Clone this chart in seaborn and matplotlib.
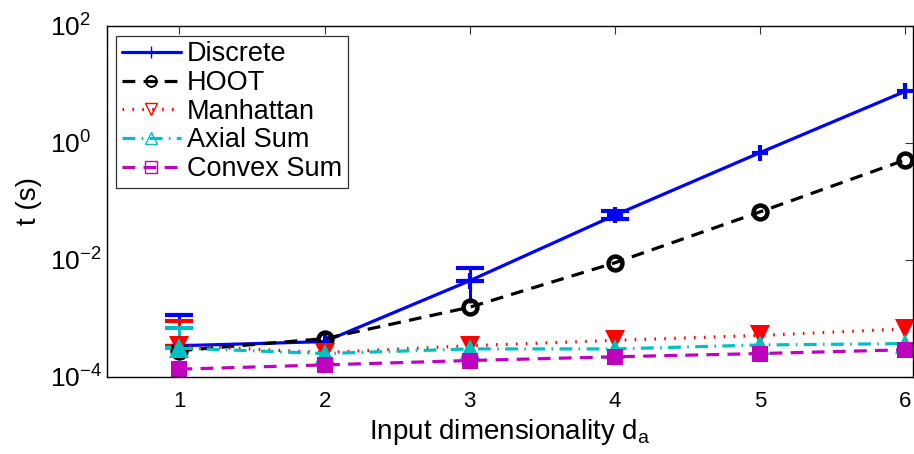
import numpy as np
import pandas as pd
import seaborn as sns
import matplotlib
matplotlib.use("Agg")
import matplotlib.pyplot as plt
from matplotlib.lines import Line2D

# Runtime (seconds) per method against input dimensionality
dims = [1, 2, 3, 4, 5, 6]
discrete = [3.4e-4, 4.0e-4, 4.4e-3, 0.058, 0.68, 7.6]
hoot = [2.8e-4, 4.5e-4, 1.55e-3, 8.9e-3, 0.066, 0.51]
manhattan = [3.4e-4, 2.6e-4, 3.4e-4, 4.2e-4, 5.1e-4, 6.6e-4]
axial_sum = [3.1e-4, 2.5e-4, 3.0e-4, 3.0e-4, 3.5e-4, 3.7e-4]
convex_sum = [1.35e-4, 1.6e-4, 1.9e-4, 2.2e-4, 2.5e-4, 2.9e-4]

# Error bar extents (upper, lower) for selected points
discrete_err_hi = [1.15e-3, 0, 7.2e-3, 0.068, 0, 0]
discrete_err_lo = [3.1e-4, 0, 1.8e-3, 0.049, 0, 0]
manhattan_err_hi = [9.0e-4, 0, 0, 0, 0, 0]
manhattan_err_lo = [3.0e-4, 0, 0, 0, 0, 0]
axial_err_hi = [6.8e-4, 0, 0, 0, 0, 0]
axial_err_lo = [2.9e-4, 0, 0, 0, 0, 0]

methods = ["Discrete", "HOOT", "Manhattan", "Axial Sum", "Convex Sum"]
series = [discrete, hoot, manhattan, axial_sum, convex_sum]
colors = {"Discrete": "#0000ff", "HOOT": "#000000", "Manhattan": "#ff0000",
          "Axial Sum": "#00bfbf", "Convex Sum": "#bf00bf"}
dash_map = {"Discrete": "", "HOOT": (4, 2.6), "Manhattan": (0.5, 2.6),
            "Axial Sum": (4, 2, 0.5, 2), "Convex Sum": (4, 2.6)}
marker_map = {"Discrete": "P", "HOOT": "o", "Manhattan": "v",
              "Axial Sum": "^", "Convex Sum": "s"}

df = pd.DataFrame({
    "d": np.tile(dims, len(methods)),
    "t": np.concatenate(series),
    "method": np.repeat(methods, len(dims)),
})

sns.set_theme(style="white")
plt.rcParams["font.family"] = ["Liberation Sans", "DejaVu Sans"]
plt.rcParams["mathtext.fontset"] = "custom"
plt.rcParams["mathtext.rm"] = "Liberation Sans"
plt.rcParams["mathtext.it"] = "Liberation Sans:italic"
plt.rcParams["text.color"] = "black"
plt.rcParams["axes.labelcolor"] = "black"
plt.rcParams["xtick.color"] = "black"
plt.rcParams["ytick.color"] = "black"

fig = plt.figure(figsize=(9.14, 4.54), dpi=100)
ax = fig.add_axes([0.117, 0.170, 0.882, 0.773])

# Error bars drawn underneath the lines: the full whisker without caps,
# then caps at the upper end (the lower cap only where it shows)
def draw_err(vals, hi, lo, color):
    for x, v, h, l in zip(dims, vals, hi, lo):
        if h > 0:
            ax.errorbar([x], [v], yerr=[[v - l], [h - v]], fmt="none",
                        ecolor=color, elinewidth=2.2, capsize=0, zorder=1)
            low_cap = (v - l) if (v - l) / v > 0.12 and x == 4 else 0.0
            ax.errorbar([x], [v], yerr=[[low_cap], [h - v]], fmt="none",
                        ecolor=color, elinewidth=0, capsize=10,
                        capthick=3, zorder=1)

draw_err(discrete, discrete_err_hi, discrete_err_lo, colors["Discrete"])
draw_err(manhattan, manhattan_err_hi, manhattan_err_lo, colors["Manhattan"])
draw_err(axial_sum, axial_err_hi, axial_err_lo, colors["Axial Sum"])

sns.lineplot(data=df, x="d", y="t", hue="method", style="method",
             hue_order=methods, style_order=methods, palette=colors,
             dashes=dash_map, markers=marker_map, markersize=12,
             linewidth=2.3, markeredgewidth=0, ax=ax, legend=False)

# Marker styling per series
for line in ax.get_lines():
    mk = line.get_marker()
    if mk == "o":
        line.set_markersize(10)
        line.set_markerfacecolor("none")
        line.set_markeredgecolor("black")
        line.set_markeredgewidth(3.2)
    elif mk == "P":
        line.set_marker("+")
        line.set_markersize(11)
        line.set_markeredgewidth(3)
        line.set_markeredgecolor("#0000ff")
    elif mk in ("v", "^"):
        line.set_markersize(15)
    elif mk == "s":
        line.set_markersize(11)

ax.set_yscale("log")
ax.set_ylim(1e-4, 1e2)
ax.set_xlim(0.5, 6.055)
ax.set_xticks(dims)
ax.set_yticks([1e-4, 1e-2, 1e0, 1e2])
ax.yaxis.set_minor_locator(matplotlib.ticker.NullLocator())
ax.set_yticklabels([r"$10^{-4}$", r"$10^{-2}$", r"$10^{0}$", r"$10^{2}$"])
ax.tick_params(axis="both", which="major", direction="in", length=6,
               width=0.8, color="#333333", top=True, right=True,
               labelcolor="black")
ax.tick_params(axis="x", labelsize=16, pad=10)
ax.tick_params(axis="y", labelsize=19, pad=41)
for lbl in ax.get_yticklabels():
    lbl.set_horizontalalignment("left")
for s in ax.spines.values():
    s.set_color("black")
    s.set_linewidth(1.0)

ax.set_xlabel(r"Input dimensionality d$_\mathrm{a}$", fontsize=20, labelpad=4)
ax.set_ylabel("t (s)", fontsize=20, labelpad=6)

handles = []
for m in methods:
    ls = "-" if m == "Discrete" else (0, dash_map[m])
    mk = {"Discrete": "+", "HOOT": "$\\ominus$", "Manhattan": "v",
          "Axial Sum": "^", "Convex Sum": "s"}[m]
    handles.append(Line2D([0], [0], color=colors[m], linestyle=ls,
                          linewidth=2.3, marker=mk, markersize=8,
                          markerfacecolor="none", markeredgecolor=colors[m],
                          markeredgewidth=1))
leg = ax.legend(handles, methods, loc="upper left", fontsize=19.5,
                frameon=True, fancybox=False, handlelength=2.2,
                handletextpad=0.22, labelspacing=0.1, borderpad=0.2,
                borderaxespad=0.0, bbox_to_anchor=(0.0114, 0.9715))
leg.get_frame().set_edgecolor("black")
leg.get_frame().set_linewidth(0.9)

fig.savefig("out.png", dpi=100)
